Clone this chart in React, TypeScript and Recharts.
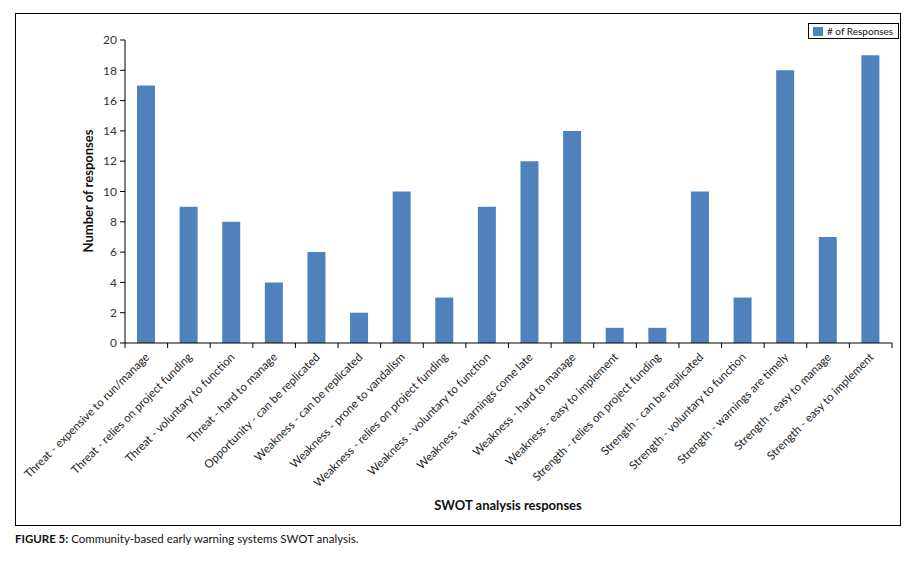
import React from 'react';
import { BarChart, Bar, XAxis, YAxis } from 'recharts';

const categories = [
  'Threat - expensive to run/manage',
  'Threat - relies on project funding',
  'Threat - voluntary to function',
  'Threat - hard to manage',
  'Opportunity - can be replicated',
  'Weakness - can be replicated',
  'Weakness - prone to vandalism',
  'Weakness - relies on project funding',
  'Weakness - voluntary to function',
  'Weakness - warnings come late',
  'Weakness - hard to manage',
  'Weakness - easy to implement',
  'Strength - relies on project funding',
  'Strength - can be replicated',
  'Strength - voluntary to function',
  'Strength - warnings are timely',
  'Strength - easy to manage',
  'Strength - easy to implement',
];

const responses = [17, 9, 8, 4, 6, 2, 10, 3, 9, 12, 14, 1, 1, 10, 3, 18, 7, 19];

const yTicks = [0, 2, 4, 6, 8, 10, 12, 14, 16, 18, 20];

const data = categories.map((category, i) => ({ category, responses: responses[i] }));

const FONT = 'Lato, "Open Sans", sans-serif';
const BAR = '#4F81BD';

const W = 914;
const H = 567;
const MARGIN = { top: 40, right: 22, left: 85, bottom: 74 };
const Y_AXIS_W = 40;
const BAND = (W - MARGIN.left - MARGIN.right - Y_AXIS_W) / categories.length;

// category labels plus the tick marks, which sit between categories
const CategoryTick = (props: any) => {
  const { x, y, payload, index } = props;
  const last = index === categories.length - 1;
  return (
    <g>
      <line x1={x - BAND / 2} x2={x - BAND / 2} y1={y} y2={y + 5} stroke="#000" />
      {last && <line x1={x + BAND / 2} x2={x + BAND / 2} y1={y} y2={y + 5} stroke="#000" />}
      <g transform={`translate(${x + 1},${y + 12})`}>
        <text
          x={0}
          y={0}
          dy={4}
          textAnchor="end"
          transform="rotate(-45)"
          fontSize={11.5}
          fontFamily={FONT}
          fill="#222"
        >
          {payload.value}
        </text>
      </g>
    </g>
  );
};

export default function App() {
  return (
    <div style={{ position: 'absolute', left: 0, top: 0, width: W, height: H, background: '#fff' }}>
      <div
        style={{
          position: 'absolute',
          left: 15,
          top: 13,
          width: 884,
          height: 511,
          border: '1px solid #000',
        }}
      />
      <div style={{ position: 'absolute', left: 0, top: 0 }}>
        <BarChart width={W} height={H} data={data} margin={MARGIN} barSize={18}>
          <XAxis
            dataKey="category"
            interval={0}
            tick={<CategoryTick />}
            tickLine={false}
            tickSize={0}
            tickMargin={0}
            axisLine={{ stroke: '#000' }}
            height={150}
          />
          <YAxis
            width={Y_AXIS_W}
            domain={[0, 20]}
            ticks={yTicks}
            interval={0}
            tickSize={5}
            tickMargin={3}
            axisLine={{ stroke: '#000' }}
            tickLine={{ stroke: '#000' }}
            tick={{ fontSize: 12, fontFamily: FONT, fill: '#333' }}
          />
          <Bar dataKey="responses" name="# of Responses" fill={BAR} isAnimationActive={false} />
        </BarChart>
      </div>
      <div
        style={{
          position: 'absolute',
          left: 808,
          top: 23,
          width: 91,
          height: 16,
          border: '1px solid #000',
          boxSizing: 'border-box',
          display: 'flex',
          alignItems: 'center',
          paddingLeft: 4,
          fontFamily: FONT,
          fontSize: 10,
          color: '#111',
          background: '#fff',
          whiteSpace: 'nowrap',
        }}
      >
        <span style={{ width: 10, height: 9, background: BAR, marginRight: 4, display: 'inline-block' }} />
        # of Responses
      </div>
      <div
        style={{
          position: 'absolute',
          left: 88,
          top: 191,
          transform: 'translate(-50%, -50%) rotate(-90deg)',
          fontFamily: FONT,
          fontWeight: 700,
          fontSize: 13,
          color: '#111',
          whiteSpace: 'nowrap',
        }}
      >
        Number of responses
      </div>
      <div
        style={{
          position: 'absolute',
          left: 508,
          top: 505,
          transform: 'translate(-50%, -50%)',
          fontFamily: FONT,
          fontWeight: 700,
          fontSize: 13,
          color: '#111',
          whiteSpace: 'nowrap',
        }}
      >
        SWOT analysis responses
      </div>
      <div
        style={{
          position: 'absolute',
          left: 15,
          top: 532,
          fontFamily: FONT,
          fontSize: 11.5,
          color: '#111',
          whiteSpace: 'nowrap',
        }}
      >
        <b>FIGURE 5:</b> Community-based early warning systems SWOT analysis.
      </div>
    </div>
  );
}
